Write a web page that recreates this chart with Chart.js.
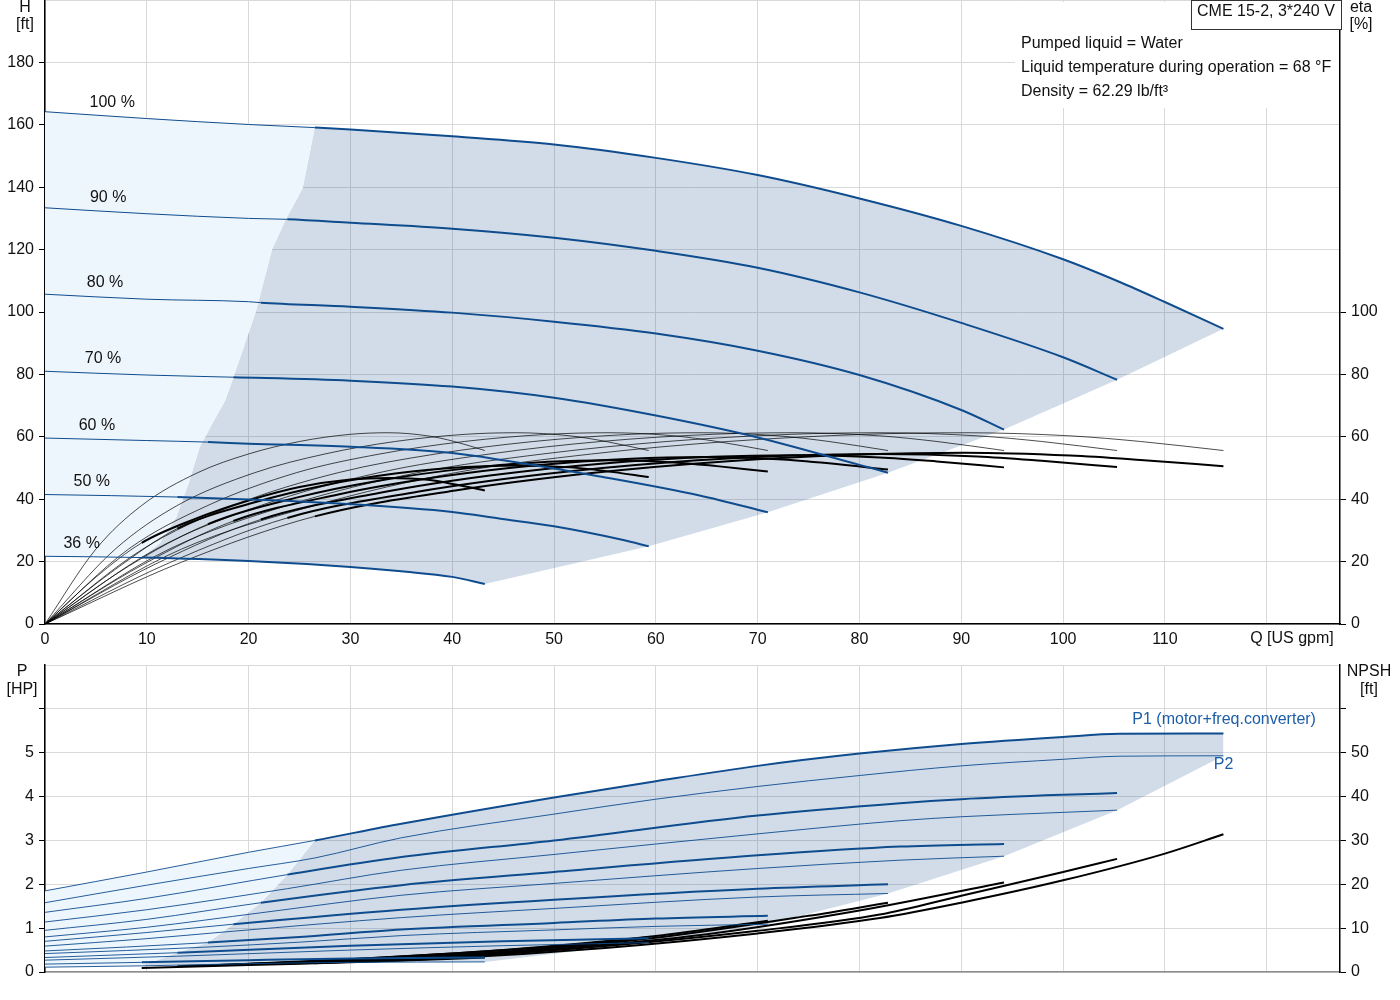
<!DOCTYPE html>
<html>
<head>
<meta charset="utf-8">
<script src="https://cdn.jsdelivr.net/npm/chart.js@4.4.1/dist/chart.umd.min.js"></script>
<style>
  body { margin: 0; background: #fff; width: 1400px; height: 1000px; position: relative; overflow: hidden; }
  canvas { position: absolute; left: 0; }
  #top { top: 0; }
  #bot { top: 655px; }
</style>
</head>
<body>
<canvas id="top" width="1400" height="655"></canvas>
<canvas id="bot" width="1400" height="345"></canvas>
<script>
// ---- head curves H [ft] vs Q [US gpm], one per speed ----
const speeds = ['100 %', '90 %', '80 %', '70 %', '60 %', '50 %', '36 %'];
const qMin = [26.5, 23.8, 21.2, 18.5, 16, 13, 9.5];   // start of operating range per speed

const hq100 = [0, 10, 20, 26.5, 30, 40, 50, 60, 70, 80, 90, 100, 105.5, 110, 115.75];
const h100 = [164.2, 162, 160.1, 159.1, 158.5, 156.3, 153.7, 149.4, 143.9, 136.4, 127.6, 116.9, 109.7, 103.2, 94.6];
const hq90 = [0, 10, 20, 23.8, 30, 40, 50, 60, 70, 80, 90, 100, 105.3];
const h90 = [133.4, 131.5, 130, 129.7, 128.6, 126.7, 123.8, 119.6, 114.2, 106.3, 96.5, 85.5, 78.3];
const hq80 = [0, 10, 20, 21.2, 30, 40, 50, 60, 70, 80, 90, 94.2];
const h80 = [105.7, 104.1, 103.3, 103, 101.7, 99.8, 96.9, 93.1, 87.6, 79.8, 68.6, 62.3];
const hq70 = [0, 10, 18.5, 30, 40, 50, 60, 70, 80, 82.8];
const h70 = [81, 79.8, 79.1, 78, 76.1, 72.5, 66.8, 59.8, 51, 48.5];
const hq60 = [0, 10, 16, 20, 30, 40, 45, 54.5, 64.3, 71];
const h60 = [59.6, 58.8, 58.3, 57.8, 56.8, 54.8, 52.5, 47.3, 41.2, 35.8];
const hq50 = [0, 13, 20, 30, 40, 44.6, 50, 56.8, 59.3];
const h50 = [41.5, 40.7, 39.9, 38.4, 35.9, 33.8, 31.3, 26.9, 24.9];
const hq36 = [0, 9.5, 20, 30, 35, 40, 43.2];
const h36 = [21.7, 21.3, 20.2, 18.3, 16.9, 15.1, 12.8];

// left edge of the operating area (top chart)
const bndQ = [9.5, 11.3, 12.9, 14.1, 15.2, 16.4, 17.7, 18.6, 20.7, 22.3, 23.7, 25.3, 26.5];
const bndH = [21.3, 26, 34.3, 45, 56.7, 64, 71.6, 80, 100, 120, 130, 139.6, 159.1];

// ---- efficiency curves eta [%] ----
const eq100 = [0, 13.4, 26.5, 40.3, 53.7, 67.1, 80.6, 90.3, 100.7, 107.6, 115.75];
const eq90 = [0, 12.2, 23.8, 36.6, 48.9, 61.1, 73.3, 82.1, 91.6, 97.9, 105.3];
const eq80 = [0, 10.9, 21.2, 32.8, 43.7, 54.6, 65.6, 73.5, 82, 87.6, 94.2];
const eq70 = [0, 9.6, 18.5, 28.8, 38.4, 48, 57.6, 64.6, 72, 77, 82.8];
const eq60 = [0, 8.2, 16, 24.7, 32.9, 41.2, 49.4, 55.4, 61.8, 66, 71];
const eq50 = [0, 6.9, 13, 20.6, 27.5, 34.4, 41.3, 46.3, 51.6, 55.1, 59.3];
const eq36 = [0, 5, 9.5, 15, 20, 25, 30, 33.7, 37.6, 40.2, 43.2];
const etaPump = [0, 24, 38, 48.5, 54.5, 58.5, 60.8, 61.3, 60.3, 58.5, 55.6];
const etaTot100 = [0, 19.8, 34.5, 42.8, 48.4, 52.2, 54.4, 54.9, 54, 52.6, 50.6];
const etaTot90 = [0, 19.6, 34, 42.4, 48, 51.8, 54, 54.5, 53.7, 52.3, 50.3];
const etaTot80 = [0, 19.3, 33.5, 42, 47.6, 51.4, 53.6, 54.1, 53.4, 52.1, 50.2];
const etaTot70 = [0, 19, 33, 41.5, 47, 50.8, 53, 53.5, 52.8, 51.5, 49.5];
const etaTot60 = [0, 18.5, 32, 40.5, 46, 49.8, 52, 52.5, 51.8, 50.6, 48.9];
const etaTot50 = [0, 17.5, 30.6, 39, 44.5, 48.2, 50.3, 50.8, 50.2, 49, 47.1];
const etaTot36 = [0, 15, 26, 34, 39.6, 43.9, 46.3, 46.8, 46.2, 44.8, 42.8];

// ---- power P1 / P2 [HP] ----
const pq100 = [0, 10, 20, 26.5, 35, 50, 60, 70, 80, 90, 100, 105.5, 115.75];
const p1_100 = [1.85, 2.28, 2.73, 3.0, 3.38, 3.98, 4.35, 4.7, 4.98, 5.2, 5.36, 5.43, 5.44];
const p2_100 = [1.58, 1.98, 2.36, 2.6, 3.06, 3.6, 3.94, 4.23, 4.48, 4.7, 4.85, 4.92, 4.93];
const pq90 = [0, 10, 23.8, 35, 50, 70, 84, 90, 100, 105.3];
const p1_90 = [1.36, 1.68, 2.22, 2.62, 3.0, 3.57, 3.85, 3.94, 4.04, 4.08];
const p2_90 = [1.14, 1.42, 1.9, 2.32, 2.68, 3.15, 3.45, 3.54, 3.64, 3.69];
const pq80 = [0, 10, 21.2, 35, 50, 70, 84, 94.2];
const p1_80 = [0.95, 1.2, 1.58, 1.98, 2.28, 2.66, 2.86, 2.92];
const p2_80 = [0.8, 1.02, 1.35, 1.75, 2.02, 2.36, 2.55, 2.64];
const pq70 = [0, 10, 18.5, 35, 50, 70, 82.8];
const p1_70 = [0.7, 0.9, 1.09, 1.42, 1.65, 1.9, 2.0];
const p2_70 = [0.59, 0.76, 0.93, 1.24, 1.45, 1.71, 1.79];
const pq60 = [0, 8, 16, 25, 35, 50, 60, 71];
const p1_60 = [0.48, 0.57, 0.67, 0.8, 0.97, 1.12, 1.22, 1.28];
const p2_60 = [0.42, 0.49, 0.57, 0.68, 0.83, 0.96, 1.04, 1.09];
const pq50 = [0, 13, 30, 45, 59.3];
const p1_50 = [0.33, 0.44, 0.6, 0.7, 0.77];
const p2_50 = [0.27, 0.36, 0.5, 0.6, 0.67];
const pq36 = [0, 9.5, 20, 30, 43.2];
const p1_36 = [0.18, 0.22, 0.27, 0.31, 0.33];
const p2_36 = [0.11, 0.14, 0.19, 0.22, 0.23];

// ---- NPSH [ft] ----
const nq100 = [26.5, 40, 55, 70, 82, 90, 100, 110, 115.75];
const n100 = [2.0, 3.2, 5.5, 8.8, 12.3, 15.8, 20.9, 27, 31.4];
const nq90 = [23.8, 40, 55, 70, 82, 90, 100, 105.3];
const n90 = [1.9, 3.4, 5.9, 9.4, 13.1, 17.4, 22.8, 25.8];
const nq80 = [21.2, 35, 50, 65, 80, 94.2];
const n80 = [1.8, 3.0, 5.2, 8.6, 14.0, 20.4];
const nq70 = [18.5, 30, 45, 60, 75, 82.8];
const n70 = [1.7, 2.7, 4.6, 7.8, 12.8, 15.8];
const nq60 = [16, 30, 45, 60, 71];
const n60 = [1.5, 2.9, 5.0, 8.2, 11.7];
const nq50 = [13, 25, 40, 50, 59.3];
const n50 = [1.3, 2.3, 4.2, 5.8, 7.9];
const nq36 = [9.5, 20, 30, 43.2];
const n36 = [0.9, 1.6, 2.2, 3.3];

const xTicks = [0, 10, 20, 30, 40, 50, 60, 70, 80, 90, 100, 110];

// ---------------------------------------------------------------
const FONT = 'Arial, "Liberation Sans", sans-serif';
const BLUE = '#0f4c8e';
const LIGHT = '#eef6fd';
const DARK = 'rgba(24,78,140,0.2)';
const GRID = '#d9d9d9';
Chart.defaults.font.family = FONT;
Chart.defaults.font.size = 16;
Chart.defaults.color = '#111';

const zip = (qs, vs) => qs.map((q, i) => ({ x: q, y: vs[i] }));
const last = a => a[a.length - 1];

function curve(points, axis, color, from, thin, thick) {
  return {
    data: points, yAxisID: axis, borderColor: color, borderWidth: thick,
    pointRadius: 0, fill: false, order: 1, cubicInterpolationMode: 'monotone',
    segment: { borderWidth: c => (c.p0.parsed.x >= from - 0.001 ? thick : thin) }
  };
}
function area(points, axis, target, color) {
  return {
    data: points, yAxisID: axis, borderWidth: 0, borderColor: 'rgba(0,0,0,0)',
    pointRadius: 0, backgroundColor: color, order: 10, tension: 0,
    fill: target === null ? false : { target: target, above: color, below: color }
  };
}

const textPlugin = {
  id: 'texts',
  afterDraw(chart, args, opts) {
    const c = chart.ctx;
    c.save();
    (opts.boxes || []).forEach(b => {
      c.fillStyle = '#fff';
      c.fillRect(b.x, b.y, b.w, b.h);
      if (b.stroke) {
        c.strokeStyle = b.stroke; c.lineWidth = 1;
        c.strokeRect(b.x + 0.5, b.y + 0.5, b.w, b.h);
      }
    });
    (opts.items || []).forEach(t => {
      let x = t.x, y = t.y;
      if (t.q !== undefined) {
        x = chart.scales.x.getPixelForValue(t.q);
        y = chart.scales[t.axis].getPixelForValue(t.v);
      }
      c.font = (t.size || 16) + 'px ' + FONT;
      c.fillStyle = t.color || '#111';
      c.textAlign = t.align || 'center';
      c.textBaseline = 'middle';
      c.fillText(t.text, x, y);
    });
    c.restore();
  }
};

function xScale(height, showLabels, borderColor) {
  return {
    type: 'linear', min: 0, max: 127.2,
    afterBuildTicks: s => { s.ticks = xTicks.concat([120]).map(v => ({ value: v })); },
    ticks: { display: showLabels, padding: 6, callback: v => (xTicks.includes(v) ? v : '') },
    grid: { color: GRID, drawTicks: false },
    border: { color: borderColor, width: 1.5 },
    afterFit: s => { s.height = height; s.paddingLeft = 0; s.paddingRight = 0; }
  };
}
function yScale(pos, max, step, lastLabel, lastTick, width, onArea) {
  return {
    position: pos, min: 0, max: max,
    ticks: { stepSize: step, includeBounds: false, padding: 5, callback: v => (v <= lastLabel ? v : '') },
    grid: {
      color: GRID, drawOnChartArea: onArea, tickLength: 6,
      tickColor: c => (c.tick && c.tick.value <= lastTick ? '#000' : 'rgba(0,0,0,0)')
    },
    border: { color: '#000', width: 1.5 },
    afterFit: s => { s.width = width; s.paddingTop = 0; s.paddingBottom = 0; }
  };
}

// ---------------- top chart: H and eta ----------------
const headQ = [hq100, hq90, hq80, hq70, hq60, hq50, hq36];
const headH = [h100, h90, h80, h70, h60, h50, h36];
const etaQ = [eq100, eq90, eq80, eq70, eq60, eq50, eq36];
const etaTot = [etaTot100, etaTot90, etaTot80, etaTot70, etaTot60, etaTot50, etaTot36];

const pts100 = zip(hq100, h100);
const pts36 = zip(hq36, h36);
const bnd = zip(bndQ, bndH);
const headEnds = headQ.map((qs, i) => ({ x: last(qs), y: last(headH[i]) })).reverse();

const topSets = [
  area(pts100.filter(p => p.x <= last(bndQ)), 'y', 1, LIGHT),
  area(pts36.filter(p => p.x < bndQ[0]).concat(bnd), 'y', null, LIGHT),
  area(bnd.concat(pts100.filter(p => p.x > last(bndQ))), 'y', 3, DARK),
  area(pts36.filter(p => p.x >= bndQ[0]).concat(headEnds.slice(1)), 'y', null, DARK)
];
headQ.forEach((qs, i) => {
  topSets.push(curve(zip(qs, headH[i]), 'y', BLUE, qMin[i], 1, 2));
});
etaQ.forEach((qs, i) => {
  topSets.push(curve(zip(qs, etaPump), 'y2', '#000', Infinity, 0.7, 0.7));
  topSets.push(curve(zip(qs, etaTot[i]), 'y2', '#000', qMin[i], 0.7, 2));
});

const labelPos = [[6.6, 167.2], [6.2, 136.8], [5.9, 109.3], [5.7, 85], [5.1, 63.6], [4.6, 45.7], [3.6, 25.9]];

new Chart(document.getElementById('top'), {
  type: 'line',
  data: { datasets: topSets },
  options: {
    responsive: false, animation: false,
    layout: { padding: 0 },
    elements: { point: { radius: 0 } },
    plugins: {
      legend: { display: false }, tooltip: { enabled: false },
      texts: {
        boxes: [
          { x: 1015, y: 2, w: 324, h: 106 },
          { x: 1191, y: 0, w: 150, h: 29, stroke: '#333' }
        ],
        items: [
          { text: 'CME 15-2, 3*240 V', x: 1197, y: 12, align: 'left' },
          { text: 'Pumped liquid = Water', x: 1021, y: 44, align: 'left' },
          { text: 'Liquid temperature during operation = 68 °F', x: 1021, y: 68, align: 'left' },
          { text: 'Density = 62.29 lb/ft³', x: 1021, y: 92, align: 'left' },
          { text: 'H', x: 25, y: 8 }, { text: '[ft]', x: 25, y: 25 },
          { text: 'eta', x: 1361, y: 8 }, { text: '[%]', x: 1361, y: 25 },
          { text: 'Q [US gpm]', x: 1292, y: 639 }
        ].concat(speeds.map((s, i) => ({ text: s, q: labelPos[i][0], v: labelPos[i][1], axis: 'y' })))
      }
    },
    scales: {
      x: xScale(31, true, '#000'),
      y: yScale('left', 200, 20, 180, 180, 45, true),
      y2: yScale('right', 200, 20, 100, 100, 60, false)
    }
  },
  plugins: [textPlugin]
});

// ---------------- bottom chart: P and NPSH ----------------
const powQ = [pq100, pq90, pq80, pq70, pq60, pq50, pq36];
const powP1 = [p1_100, p1_90, p1_80, p1_70, p1_60, p1_50, p1_36];
const powP2 = [p2_100, p2_90, p2_80, p2_70, p2_60, p2_50, p2_36];
const npshQ = [nq100, nq90, nq80, nq70, nq60, nq50, nq36];
const npsh = [n100, n90, n80, n70, n60, n50, n36];

const p1top = zip(pq100, p1_100);
const p2low = zip(pq36, p2_36);
const pBnd = powQ.map((qs, i) => ({ x: qMin[i], y: powP1[i][qs.indexOf(qMin[i])] })).reverse();
pBnd[0].y = p2_36[pq36.indexOf(qMin[6])];
const p2Ends = powQ.map((qs, i) => ({ x: last(qs), y: last(powP2[i]) })).reverse();

const botSets = [
  area(p1top.filter(p => p.x <= qMin[0]), 'p', 1, LIGHT),
  area(p2low.filter(p => p.x < qMin[6]).concat(pBnd), 'p', null, LIGHT),
  area(pBnd.concat(p1top.filter(p => p.x > qMin[0])), 'p', 3, DARK),
  area(p2low.filter(p => p.x >= qMin[6]).concat(p2Ends.slice(1)), 'p', null, DARK)
];
powQ.forEach((qs, i) => {
  botSets.push(curve(zip(qs, powP2[i]), 'p', BLUE, Infinity, 0.9, 0.9));
  botSets.push(curve(zip(qs, powP1[i]), 'p', BLUE, qMin[i], 0.9, 2));
});
npshQ.forEach((qs, i) => {
  botSets.push(curve(zip(qs, npsh[i]), 'n', '#000', -1, 2, 2));
});

new Chart(document.getElementById('bot'), {
  type: 'line',
  data: { datasets: botSets },
  options: {
    responsive: false, animation: false,
    layout: { padding: { top: 10 } },
    elements: { point: { radius: 0 } },
    plugins: {
      legend: { display: false }, tooltip: { enabled: false },
      texts: {
        items: [
          { text: 'P', x: 22, y: 17 }, { text: '[HP]', x: 22, y: 35 },
          { text: 'NPSH', x: 1369, y: 17 }, { text: '[ft]', x: 1369, y: 35 },
          { text: 'P1 (motor+freq.converter)', q: 106.8, v: 5.75, axis: 'p', align: 'left', color: '#1c5ea8' },
          { text: 'P2', q: 114.8, v: 4.73, axis: 'p', align: 'left', color: '#1c5ea8' }
        ]
      }
    },
    scales: {
      x: xScale(28, false, '#8c8c8c'),
      p: yScale('left', 7, 1, 5, 6, 45, true),
      n: yScale('right', 70, 10, 50, 60, 60, false)
    }
  },
  plugins: [textPlugin]
});
</script>
</body>
</html>
